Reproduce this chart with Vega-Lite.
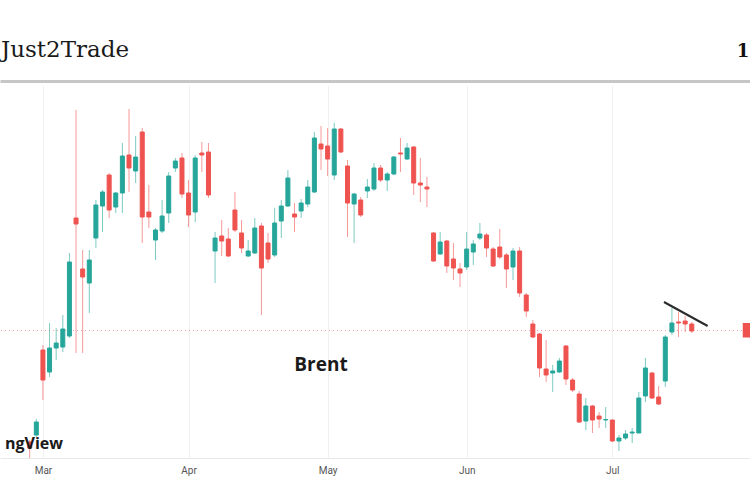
{
  "$schema": "https://vega.github.io/schema/vega-lite/v6.json",
  "autosize": {"type": "none"},
  "padding": {"top": 85, "left": 0, "right": 0, "bottom": 42},
  "width": 750,
  "height": 373,
  "background": "white",
  "config": {"view": {"stroke": null}},
  "title": {"text": "Just2Trade", "anchor": "start", "orient": "top", "frame": "group", "font": "DejaVu Serif", "fontSize": 23, "fontWeight": "normal", "color": "#1a1a1a", "baseline": "alphabetic", "offset": -38, "dx": 1},
  "datasets": {
    "candles": [
      {"i":0,"o":105.8,"c":105.2,"h":106.0,"l":104.2},
      {"i":1,"o":106.5,"c":107.8,"h":108.1,"l":106.3},
      {"i":2,"o":115.0,"c":112.0,"h":115.5,"l":110.0},
      {"i":3,"o":112.8,"c":115.2,"h":117.7,"l":112.3},
      {"i":4,"o":115.2,"c":115.7,"h":117.2,"l":114.0},
      {"i":5,"o":115.3,"c":117.1,"h":118.5,"l":114.8},
      {"i":6,"o":116.4,"c":123.8,"h":124.7,"l":116.2},
      {"i":7,"o":128.2,"c":127.6,"h":139.0,"l":114.7},
      {"i":8,"o":123.1,"c":122.3,"h":125.0,"l":114.7},
      {"i":9,"o":121.7,"c":124.0,"h":125.0,"l":118.7},
      {"i":10,"o":126.2,"c":129.5,"h":130.0,"l":125.2},
      {"i":11,"o":129.4,"c":130.8,"h":131.0,"l":126.8},
      {"i":12,"o":132.5,"c":129.0,"h":132.7,"l":128.2},
      {"i":13,"o":129.3,"c":130.7,"h":130.8,"l":128.7},
      {"i":14,"o":130.7,"c":134.4,"h":135.7,"l":128.7},
      {"i":15,"o":134.5,"c":133.2,"h":139.1,"l":130.8},
      {"i":16,"o":132.9,"c":134.3,"h":136.4,"l":131.7},
      {"i":17,"o":136.8,"c":128.3,"h":137.2,"l":125.7},
      {"i":18,"o":128.8,"c":128.3,"h":131.5,"l":127.2},
      {"i":19,"o":126.0,"c":127.0,"h":127.2,"l":124.0},
      {"i":20,"o":126.9,"c":128.4,"h":130.0,"l":126.7},
      {"i":21,"o":128.7,"c":132.4,"h":132.8,"l":127.7},
      {"i":22,"o":133.2,"c":133.9,"h":134.2,"l":132.8},
      {"i":23,"o":134.2,"c":130.6,"h":134.7,"l":130.2},
      {"i":24,"o":130.7,"c":128.5,"h":132.0,"l":127.3},
      {"i":25,"o":128.8,"c":134.2,"h":134.5,"l":127.8},
      {"i":26,"o":134.7,"c":134.5,"h":135.8,"l":132.8},
      {"i":27,"o":134.8,"c":130.5,"h":135.7,"l":130.2},
      {"i":28,"o":124.9,"c":126.2,"h":126.8,"l":121.7},
      {"i":29,"o":126.4,"c":125.9,"h":128.0,"l":124.4},
      {"i":30,"o":126.1,"c":124.4,"h":127.2,"l":124.3},
      {"i":31,"o":129.0,"c":127.0,"h":130.8,"l":126.8},
      {"i":32,"o":126.7,"c":125.2,"h":128.0,"l":124.7},
      {"i":33,"o":124.4,"c":124.9,"h":126.0,"l":124.3},
      {"i":34,"o":124.7,"c":127.2,"h":128.2,"l":124.6},
      {"i":35,"o":127.4,"c":123.2,"h":127.7,"l":118.5},
      {"i":36,"o":125.7,"c":124.1,"h":126.7,"l":123.7},
      {"i":37,"o":124.5,"c":127.7,"h":129.2,"l":124.3},
      {"i":38,"o":127.9,"c":129.4,"h":130.0,"l":126.2},
      {"i":39,"o":129.4,"c":132.2,"h":133.0,"l":129.3},
      {"i":40,"o":128.6,"c":128.3,"h":129.7,"l":126.8},
      {"i":41,"o":128.9,"c":129.7,"h":130.1,"l":128.2},
      {"i":42,"o":129.6,"c":131.3,"h":132.0,"l":129.3},
      {"i":43,"o":130.8,"c":136.2,"h":136.8,"l":130.7},
      {"i":44,"o":135.6,"c":135.1,"h":137.4,"l":133.0},
      {"i":45,"o":135.4,"c":134.1,"h":137.2,"l":132.4},
      {"i":46,"o":132.5,"c":137.1,"h":137.7,"l":132.0},
      {"i":47,"o":137.1,"c":134.8,"h":137.2,"l":134.7},
      {"i":48,"o":133.4,"c":129.7,"h":134.0,"l":126.3},
      {"i":49,"o":129.6,"c":130.6,"h":130.7,"l":125.7},
      {"i":50,"o":130.0,"c":128.5,"h":130.3,"l":128.3},
      {"i":51,"o":130.9,"c":131.3,"h":132.1,"l":130.2},
      {"i":52,"o":131.1,"c":133.2,"h":133.7,"l":130.9},
      {"i":53,"o":133.2,"c":132.0,"h":133.5,"l":131.8},
      {"i":54,"o":132.0,"c":132.6,"h":132.8,"l":130.9},
      {"i":55,"o":132.6,"c":134.3,"h":134.4,"l":132.5},
      {"i":56,"o":134.7,"c":134.6,"h":136.2,"l":132.8},
      {"i":57,"o":134.1,"c":135.2,"h":135.7,"l":134.0},
      {"i":58,"o":135.3,"c":131.7,"h":135.4,"l":130.5},
      {"i":59,"o":131.7,"c":131.5,"h":134.2,"l":129.8},
      {"i":60,"o":131.3,"c":131.1,"h":132.3,"l":129.3},
      {"i":61,"o":126.7,"c":123.9,"h":126.8,"l":123.8},
      {"i":62,"o":124.6,"c":125.8,"h":126.8,"l":124.5},
      {"i":63,"o":125.9,"c":123.4,"h":126.0,"l":122.7},
      {"i":64,"o":124.1,"c":123.2,"h":125.7,"l":122.0},
      {"i":65,"o":123.1,"c":122.7,"h":123.7,"l":121.3},
      {"i":66,"o":123.3,"c":125.1,"h":126.8,"l":123.0},
      {"i":67,"o":124.8,"c":125.6,"h":126.0,"l":123.5},
      {"i":68,"o":126.2,"c":126.6,"h":127.7,"l":126.0},
      {"i":69,"o":126.5,"c":125.2,"h":126.7,"l":124.3},
      {"i":70,"o":125.1,"c":123.4,"h":125.3,"l":123.3},
      {"i":71,"o":125.3,"c":124.3,"h":127.1,"l":124.1},
      {"i":72,"o":124.5,"c":123.1,"h":124.7,"l":121.2},
      {"i":73,"o":123.3,"c":124.9,"h":125.2,"l":122.0},
      {"i":74,"o":124.9,"c":120.7,"h":125.3,"l":120.3},
      {"i":75,"o":120.5,"c":118.9,"h":120.7,"l":118.3},
      {"i":76,"o":117.6,"c":116.3,"h":118.0,"l":116.2},
      {"i":77,"o":116.6,"c":113.2,"h":116.7,"l":112.3},
      {"i":78,"o":113.1,"c":112.5,"h":116.0,"l":111.8},
      {"i":79,"o":112.7,"c":112.9,"h":113.5,"l":110.8},
      {"i":80,"o":112.8,"c":113.9,"h":114.2,"l":112.7},
      {"i":81,"o":115.4,"c":112.1,"h":115.5,"l":111.5},
      {"i":82,"o":112.0,"c":111.0,"h":112.2,"l":110.8},
      {"i":83,"o":110.6,"c":107.8,"h":110.9,"l":107.7},
      {"i":84,"o":107.9,"c":109.4,"h":110.2,"l":107.0},
      {"i":85,"o":109.4,"c":108.0,"h":109.5,"l":106.7},
      {"i":86,"o":108.4,"c":108.1,"h":108.8,"l":107.2},
      {"i":87,"o":108.0,"c":108.05,"h":109.3,"l":107.2},
      {"i":88,"o":108.0,"c":105.9,"h":108.0,"l":105.8},
      {"i":89,"o":105.9,"c":106.2,"h":106.5,"l":104.9},
      {"i":90,"o":106.2,"c":106.6,"h":107.0,"l":106.0},
      {"i":91,"o":106.7,"c":106.8,"h":107.2,"l":105.7},
      {"i":92,"o":106.7,"c":110.2,"h":110.8,"l":106.7},
      {"i":93,"o":110.4,"c":113.2,"h":114.2,"l":109.8},
      {"i":94,"o":112.7,"c":110.2,"h":112.8,"l":110.1},
      {"i":95,"o":110.3,"c":109.6,"h":111.4,"l":109.5},
      {"i":96,"o":111.9,"c":116.3,"h":116.5,"l":111.3},
      {"i":97,"o":116.8,"c":117.7,"h":119.2,"l":116.5},
      {"i":98,"o":117.8,"c":117.7,"h":118.8,"l":116.3},
      {"i":99,"o":117.9,"c":117.6,"h":118.4,"l":116.8},
      {"i":100,"o":117.6,"c":116.9,"h":117.8,"l":116.7}
    ],
    "trend": [{"i":95.8,"p":119.8},{"i":102.4,"p":117.4}],
    "lastPrice": [{"i0":107.7,"i1":110,"lo":116.25,"hi":117.7,"p":116.95}],
    "labels": [
      {"name":"Brent","i":44,"p":113.5},
      {"name":"ngView","i":-3.73,"p":105.6}
    ]
  },
  "layer": [
    {
      "data": {"name": "lastPrice"},
      "mark": {"type": "rule", "color": "#ef5350", "opacity": 0.55, "strokeDash": [1, 3], "strokeWidth": 1},
      "encoding": {
        "y": {"field": "p", "type": "quantitative", "scale": {"domain": [104.2, 141.5], "nice": false, "zero": false}, "axis": null}
      }
    },
    {
      "data": {"name": "candles"},
      "mark": {"type": "rule", "strokeWidth": 1, "opacity": 0.6},
      "encoding": {
        "x": {"field": "i", "type": "quantitative", "scale": {"domain": [-3.73, 108.04], "nice": false, "zero": false},
          "axis": {"orient": "bottom", "values": [2, 24, 45, 66, 88], "labelExpr": "datum.value == 2 ? 'Mar' : datum.value == 24 ? 'Apr' : datum.value == 45 ? 'May' : datum.value == 66 ? 'Jun' : 'Jul'", "title": null, "grid": true, "gridColor": "#f1f1f1", "domain": true, "domainColor": "#e8e8e8", "ticks": false, "tickSize": 0, "labelPadding": 7, "labelFont": "Roboto", "labelFontSize": 10, "labelColor": "#555555", "labelFlush": false}},
        "y": {"field": "l", "type": "quantitative", "scale": {"domain": [104.2, 141.5], "nice": false, "zero": false},
          "axis": {"orient": "right", "values": [105.0, 107.8, 110.6, 113.4, 116.2, 119.0, 121.8, 124.6, 127.4, 130.2, 133.0, 135.8, 138.6], "grid": true, "gridColor": "#f2f2f2", "labels": false, "ticks": false, "domain": false, "title": null}},
        "y2": {"field": "h"},
        "color": {"condition": {"test": "datum.c >= datum.o", "value": "#26a69a"}, "value": "#ef5350"}
      }
    },
    {
      "data": {"name": "candles"},
      "mark": {"type": "bar", "width": 4, "strokeWidth": 1},
      "encoding": {
        "x": {"field": "i", "type": "quantitative", "scale": {"domain": [-3.73, 108.04], "nice": false, "zero": false},
          "axis": {"orient": "top", "values": [106.7], "labelExpr": "'1'", "title": null, "grid": false, "domain": true, "domainColor": "#c6c6c6", "domainWidth": 3, "offset": 4, "ticks": false, "tickSize": 0, "labelPadding": 25, "labelBaseline": "alphabetic", "labelAlign": "left", "labelFlush": false, "labelFont": "DejaVu Serif", "labelFontWeight": "bold", "labelFontSize": 18, "labelColor": "#111111"}},
        "y": {"field": "o", "type": "quantitative", "scale": {"domain": [104.2, 141.5], "nice": false, "zero": false}, "axis": null},
        "y2": {"field": "c"},
        "color": {"condition": {"test": "datum.c >= datum.o", "value": "#26a69a"}, "value": "#ef5350"},
        "stroke": {"condition": {"test": "datum.c >= datum.o", "value": "#26a69a"}, "value": "#ef5350"}
      }
    },
    {
      "data": {"name": "trend"},
      "mark": {"type": "line", "color": "#2b2b2b", "strokeWidth": 2},
      "encoding": {
        "x": {"field": "i", "type": "quantitative", "scale": {"domain": [-3.73, 108.04], "nice": false, "zero": false}, "axis": null},
        "y": {"field": "p", "type": "quantitative", "scale": {"domain": [104.2, 141.5], "nice": false, "zero": false}, "axis": null}
      }
    },
    {
      "data": {"name": "lastPrice"},
      "mark": {"type": "rect", "color": "#ef5350"},
      "encoding": {
        "x": {"field": "i0", "type": "quantitative", "scale": {"domain": [-3.73, 108.04], "nice": false, "zero": false}, "axis": null},
        "x2": {"field": "i1"},
        "y": {"field": "lo", "type": "quantitative", "scale": {"domain": [104.2, 141.5], "nice": false, "zero": false}, "axis": null},
        "y2": {"field": "hi"}
      }
    },
    {
      "data": {"name": "labels"},
      "transform": [{"filter": "datum.name == 'Brent'"}],
      "mark": {"type": "text", "font": "Open Sans", "fontWeight": "bold", "fontSize": 19, "color": "#1a1a1a", "align": "center", "baseline": "middle"},
      "encoding": {
        "text": {"field": "name"},
        "x": {"field": "i", "type": "quantitative", "scale": {"domain": [-3.73, 108.04], "nice": false, "zero": false}, "axis": null},
        "y": {"field": "p", "type": "quantitative", "scale": {"domain": [104.2, 141.5], "nice": false, "zero": false}, "axis": null}
      }
    },
    {
      "data": {"name": "labels"},
      "transform": [{"filter": "datum.name == 'ngView'"}],
      "mark": {"type": "text", "font": "Open Sans", "fontWeight": "bold", "fontSize": 16, "color": "#1a1a1a", "align": "left", "baseline": "middle"},
      "encoding": {
        "text": {"field": "name"},
        "x": {"field": "i", "type": "quantitative", "scale": {"domain": [-3.73, 108.04], "nice": false, "zero": false}, "axis": null},
        "y": {"field": "p", "type": "quantitative", "scale": {"domain": [104.2, 141.5], "nice": false, "zero": false}, "axis": null}
      }
    }
  ]
}
